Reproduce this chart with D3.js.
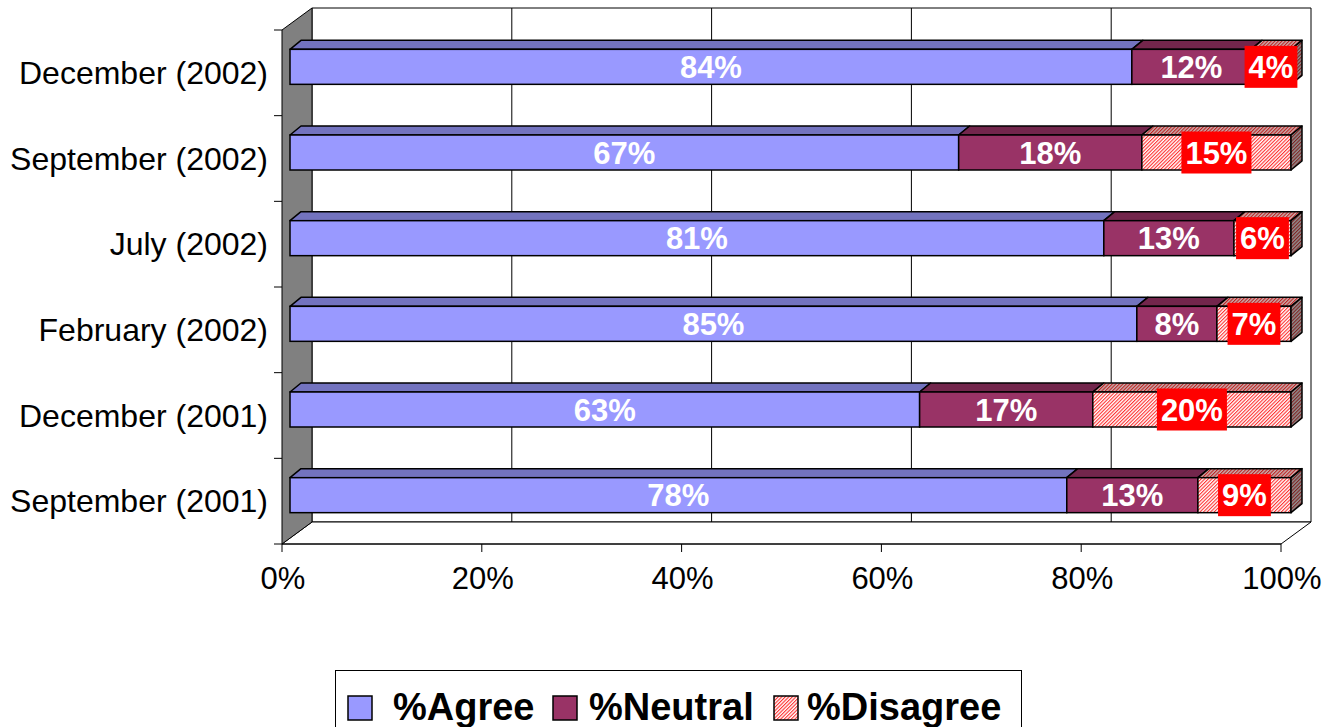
<!DOCTYPE html>
<html>
<head>
<meta charset="utf-8">
<script src="https://cdn.jsdelivr.net/npm/d3@7"></script>
<style>
  html, body { margin: 0; padding: 0; background: #fff; }
  svg { display: block; font-family: "Liberation Sans", Arial, sans-serif; }
</style>
</head>
<body>
<svg id="chart" width="1326" height="727"></svg>
<script>
// ---- data ----
const categories = ["December (2002)", "September (2002)", "July (2002)", "February (2002)", "December (2001)", "September (2001)"];
const seriesNames = ["%Agree", "%Neutral", "%Disagree"];
const agree    = [84.1, 66.8, 81.3, 84.6, 62.9, 77.6];
const neutral  = [11.9, 18.3, 13.0, 8.0, 17.3, 13.1];
const disagree = [4.0, 14.9, 5.7, 7.4, 19.8, 9.3];
const xTicks = [0, 20, 40, 60, 80, 100];

// ---- setup ----
const svg = d3.select("#chart");

const rows = categories.map((c, i) => ({ cat: c, "%Agree": agree[i], "%Neutral": neutral[i], "%Disagree": disagree[i] }));
const stacked = d3.stack().keys(seriesNames)(rows);

const xFront = d3.scaleLinear().domain([0, 100]).range([282, 1281]);
const yBand = d3.scaleBand().domain(categories).range([30, 544]);
const back = { dx: 30, dy: -22 };
const xBar = d3.scaleLinear().domain([0, 100]).range([290, 1291]);
const barDy = -6;
const barH = 35;
const depth = { dx: 11, dy: -9 };

const fills = { "%Agree": "#9999FF", "%Neutral": "#993366", "%Disagree": "url(#hatchFront)" };
const tops  = { "%Agree": "#7373BF", "%Neutral": "#73264C", "%Disagree": "url(#hatchTop)" };
const sides = { "%Agree": "#4D4D80", "%Neutral": "#4D1A33", "%Disagree": "url(#hatchSide)" };

// patterns
const defs = svg.append("defs");
function hatch(id, bg, fg) {
  const p = defs.append("pattern").attr("id", id)
    .attr("patternUnits", "userSpaceOnUse").attr("width", 2.5).attr("height", 2.5)
    .attr("patternTransform", "rotate(45)");
  p.append("rect").attr("width", 2.5).attr("height", 2.5).attr("fill", bg);
  p.append("rect").attr("width", 1.1).attr("height", 2.5).attr("fill", fg);
}
hatch("hatchFront", "#FFFFFF", "#FF3030");
hatch("hatchTop", "#C8B0B0", "#BF2020");
hatch("hatchSide", "#909090", "#802020");

// ---- walls ----
const [y0, y1] = yBand.range();
const x0 = xFront(0), x1 = xFront(100);
const line = d3.line();

svg.append("path")
  .attr("d", line([[x0 + back.dx, y0 + back.dy], [x1 + back.dx, y0 + back.dy], [x1 + back.dx, y1 + back.dy], [x0 + back.dx, y1 + back.dy]]) + "Z")
  .attr("fill", "#fff").attr("stroke", "#000").attr("stroke-width", 1);

svg.append("g").selectAll("line").data(xTicks.slice(1, -1)).join("line")
  .attr("x1", d => xFront(d) + back.dx).attr("x2", d => xFront(d) + back.dx)
  .attr("y1", y0 + back.dy).attr("y2", y1 + back.dy)
  .attr("stroke", "#000").attr("stroke-width", 1);

svg.append("path")
  .attr("d", line([[x0, y1], [x0 + back.dx, y1 + back.dy], [x1 + back.dx, y1 + back.dy], [x1, y1]]) + "Z")
  .attr("fill", "#fff").attr("stroke", "#000").attr("stroke-width", 1);

svg.append("path")
  .attr("d", line([[x0, y0], [x0 + back.dx, y0 + back.dy], [x0 + back.dx, y1 + back.dy], [x0, y1]]) + "Z")
  .attr("fill", "#808080").attr("stroke", "#000").attr("stroke-width", 1);

const bounds = categories.map(c => yBand(c)).concat([y1]);
svg.append("g").selectAll("line").data(bounds).join("line")
  .attr("x1", x0 - 8).attr("x2", x0)
  .attr("y1", d => d).attr("y2", d => d)
  .attr("stroke", "#000").attr("stroke-width", 1);

svg.append("g").selectAll("text").data(categories).join("text")
  .attr("x", 268).attr("y", d => yBand(d) + yBand.bandwidth() / 2 + 11)
  .attr("text-anchor", "end").attr("font-size", 32).attr("fill", "#000")
  .text(d => d);

svg.append("line").attr("x1", x0).attr("x2", x1).attr("y1", y1).attr("y2", y1)
  .attr("stroke", "#000").attr("stroke-width", 1);
svg.append("g").selectAll("line").data(xTicks).join("line")
  .attr("x1", d => xFront(d)).attr("x2", d => xFront(d))
  .attr("y1", y1).attr("y2", y1 + 8)
  .attr("stroke", "#000").attr("stroke-width", 1);
svg.append("g").selectAll("text").data(xTicks).join("text")
  .attr("x", d => xFront(d) + 1).attr("y", 589)
  .attr("text-anchor", "middle").attr("font-size", 31).attr("fill", "#000")
  .text(d => d + "%");

// ---- bars ----
const barsG = svg.append("g");
categories.forEach((cat, i) => {
  const cy = yBand(cat) + yBand.bandwidth() / 2 + barDy;
  const top = cy - barH / 2, bot = cy + barH / 2;
  const g = barsG.append("g");
  stacked.forEach((s, si) => {
    const a = xBar(s[i][0]), b = xBar(s[i][1]);
    const key = s.key;
    g.append("path")
      .attr("d", line([[a, top], [a + depth.dx, top + depth.dy], [b + depth.dx, top + depth.dy], [b, top]]) + "Z")
      .attr("fill", tops[key]).attr("stroke", "#000").attr("stroke-width", 1.5).attr("stroke-linejoin", "round");
    g.append("rect").attr("x", a).attr("y", top).attr("width", b - a).attr("height", barH)
      .attr("fill", fills[key]).attr("stroke", "#000").attr("stroke-width", 1.5);
    if (si === stacked.length - 1) {
      g.append("path")
        .attr("d", line([[b, top], [b + depth.dx, top + depth.dy], [b + depth.dx, bot + depth.dy], [b, bot]]) + "Z")
        .attr("fill", sides[key]).attr("stroke", "#000").attr("stroke-width", 1.5).attr("stroke-linejoin", "round");
    }
  });
  stacked.forEach((s) => {
    const a = xBar(s[i][0]), b = xBar(s[i][1]);
    const mx = (a + b) / 2;
    const v = s[i][1] - s[i][0];
    const t = g.append("text")
      .attr("x", mx).attr("y", cy + 11)
      .attr("text-anchor", "middle").attr("font-size", 31).attr("font-weight", "bold")
      .attr("fill", "#fff").text(Math.round(v) + "%");
    if (s.key === "%Disagree") {
      const w = t.node().getComputedTextLength() + 8;
      g.insert("rect", () => t.node())
        .attr("x", mx - w / 2).attr("y", cy - 21).attr("width", w).attr("height", 42)
        .attr("fill", "#FF0000");
    }
  });
});

// ---- legend ----
const lg = svg.append("g");
lg.append("rect").attr("x", 335.5).attr("y", 670.5).attr("width", 686).attr("height", 70)
  .attr("fill", "#fff").attr("stroke", "#000").attr("stroke-width", 1);
const legendSwatchX = [348, 553, 774];
const legendTextX = [393, 589, 807];
seriesNames.forEach((name, i) => {
  lg.append("rect").attr("x", legendSwatchX[i]).attr("y", 696).attr("width", 24).attr("height", 24)
    .attr("fill", fills[name]).attr("stroke", "#000").attr("stroke-width", 1.5);
  lg.append("text").attr("x", legendTextX[i]).attr("y", 720)
    .attr("font-size", 38).attr("font-weight", "bold").attr("fill", "#000")
    .text(name);
});
</script>
</body>
</html>
